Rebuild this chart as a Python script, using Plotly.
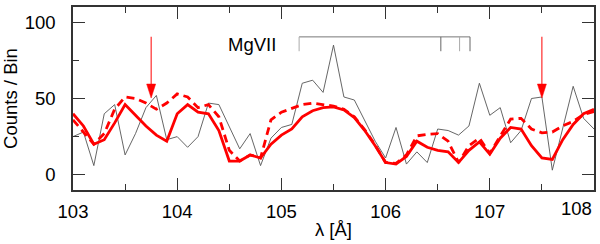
import plotly.graph_objects as go

# ---- data ----
wavelength = [round(103.0 + 0.1 * i, 1) for i in range(51)]  # bin centres 103.0 ... 108.0

observed = [25, 28, 6, 40, 46, 13, 27, 44, 52, 23,
            25, 18, 25, 47, 46, 31, 17, 27, 6, 24,
            31, 33, 60, 62, 54, 85, 51, 49, 35, 22,
            11, 31, 7, 15, 8, 30, 29, 26, 32, 60,
            39, 44, 21, 29, 50, 51, 3, 30, 58, 37, 30]

model_solid = [40, 32, 20, 23, 34, 46, 39, 32, 26, 22,
               40, 46, 41, 40, 29, 9, 9, 13, 11, 20,
               26, 30, 38, 42, 44, 44.5, 42.5, 37.5, 29, 19,
               8, 7, 12, 22, 18, 16, 15, 8, 16, 21.5,
               13.5, 24, 31, 30, 19, 11, 10, 23, 33, 40, 43]

model_dashed = [36, 28, 20, 27, 43, 51, 50, 47, 43, 47,
                53, 51, 44, 46, 38, 16, 9, 13, 11, 36,
                41, 43.5, 46, 47, 46, 45, 43, 38, 29.5, 19.5,
                8, 7.5, 13, 25.5, 26.5, 27, 22, 8, 19, 24,
                14, 25, 36.5, 37, 30, 27.5, 28, 32, 35, 39.5, 41.5]

arrow_lambdas = [103.75, 107.5]
arrow_top, arrow_tip = 90.5, 50.3

mg7_label = "MgVII"
mg7_lines = [105.17, 106.53, 106.71, 106.81]
mg7_colors = ["#aaaaaa", "#666666", "#aaaaaa", "#666666"]
mg7_top, mg7_bottom = 90.4, 81.0

x_ticks = [103, 104, 105, 106, 107, 108]
y_ticks = [0, 50, 100]

FONT = "Liberation Sans, Arial, Helvetica, sans-serif"

fig = go.Figure()
fig.add_trace(go.Scatter(x=wavelength, y=observed, mode="lines",
                         line=dict(color="#555555", width=0.9), showlegend=False))
fig.add_trace(go.Scatter(x=wavelength, y=model_dashed, mode="lines",
                         line=dict(color="#ff0000", width=2.8, dash="8px,5px"), showlegend=False))
fig.add_trace(go.Scatter(x=wavelength, y=model_solid, mode="lines",
                         line=dict(color="#ff0000", width=2.8), showlegend=False))

shapes = []
for lam in arrow_lambdas:
    shapes.append(dict(type="line", xref="x", yref="y", x0=lam, x1=lam,
                       y0=arrow_top, y1=arrow_tip + 6, line=dict(color="#ff0000", width=1)))
    shapes.append(dict(type="path", xref="x", yref="y", xsizemode="pixel", ysizemode="pixel",
                       xanchor=lam, yanchor=arrow_tip, path="M-4.5,14 L4.5,14 L0,0 Z",
                       fillcolor="#ff0000", line=dict(color="#ff0000", width=0.5)))

shapes.append(dict(type="line", xref="x", yref="y", x0=mg7_lines[0], x1=mg7_lines[-1],
                   y0=mg7_top, y1=mg7_top, line=dict(color="#777777", width=1)))
for lam, col in zip(mg7_lines, mg7_colors):
    shapes.append(dict(type="line", xref="x", yref="y", x0=lam, x1=lam,
                       y0=mg7_top, y1=mg7_bottom, line=dict(color=col, width=1)))

annotations = [
    dict(x=104.97, y=85.3, xref="x", yref="y", text=mg7_label, showarrow=False,
         xanchor="right", yanchor="middle", font=dict(size=18.5, color="black", family=FONT)),
    dict(x=1, y=0, xref="paper", yref="paper", text=str(x_ticks[-1]), showarrow=False,
         xanchor="right", yanchor="top", yshift=-6,
         font=dict(size=18.5, color="black", family=FONT)),
]

fig.update_layout(
    width=600, height=244,
    margin=dict(l=73, r=6, t=7, b=54, autoexpand=False),
    paper_bgcolor="white", plot_bgcolor="white",
    font=dict(family=FONT, size=18.5, color="black"),
    shapes=shapes, annotations=annotations,
    xaxis=dict(range=[103, 108], tickvals=x_ticks,
               ticktext=[str(t) for t in x_ticks[:-1]] + [""],
               ticks="inside", ticklen=12, tickwidth=1, tickcolor="#333",
               minor=dict(dtick=0.5, ticks="inside", ticklen=6, tickcolor="#333"),
               showline=True, linecolor="#333", linewidth=1.6, mirror="ticks",
               showgrid=False, zeroline=False, ticklabelstandoff=4, automargin=False,
               title=dict(text="λ [Å]", font=dict(size=18.5), standoff=2)),
    yaxis=dict(range=[-10, 110], tickvals=y_ticks,
               ticks="inside", ticklen=12, tickwidth=1, tickcolor="#333",
               minor=dict(dtick=25, ticks="inside", ticklen=6, tickcolor="#333"),
               showline=True, linecolor="#333", linewidth=1.6, mirror="ticks",
               showgrid=False, zeroline=False, ticklabelstandoff=12, automargin=False,
               title=dict(text="Counts / Bin", font=dict(size=18.5), standoff=8)),
)

fig.write_html("out.html", config={"displayModeBar": False},
               post_script="document.body.style.margin='0';document.body.style.padding='0';")
